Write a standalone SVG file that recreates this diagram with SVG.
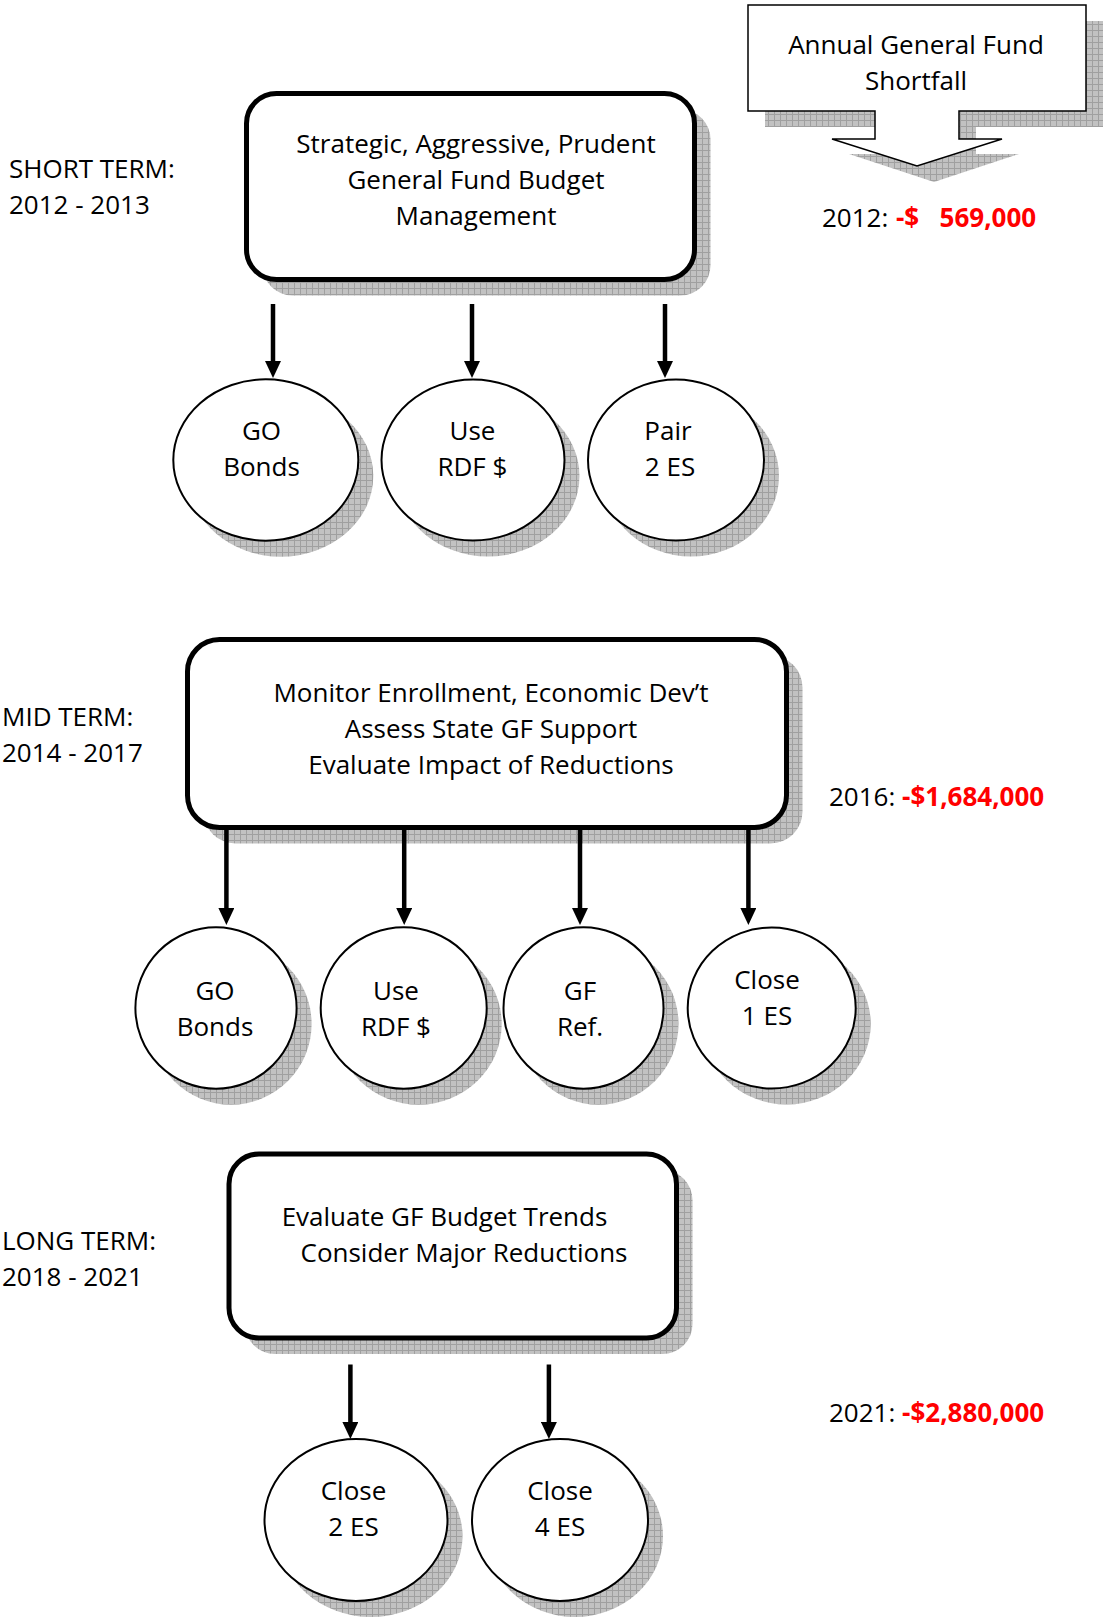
<svg xmlns="http://www.w3.org/2000/svg" width="1103" height="1621" viewBox="0 0 1103 1621">
<style>
text{font-family:"Open Sans","Liberation Sans",sans-serif;font-size:26px;fill:#000}
.c{text-anchor:middle}
.red{fill:#ff0000;font-weight:bold}
.box{fill:#fff;stroke:#000;stroke-width:5}
.node{fill:#fff;stroke:#000;stroke-width:2}
.sh{fill:url(#grid);stroke:none}
.conn{stroke:#000;stroke-width:4.5;fill:none;marker-end:url(#ah)}
</style>
<defs>
<pattern id="grid" width="6" height="6" patternUnits="userSpaceOnUse">
<rect width="6" height="6" fill="#c2c2c2"/>
<path d="M0 0.5H6M0.5 0V6" stroke="#a0a0a0" stroke-width="1"/>
</pattern>
<marker id="ah" viewBox="0 0 17 16" refX="5" refY="8" markerWidth="17" markerHeight="16" markerUnits="userSpaceOnUse" orient="auto">
<path d="M0 0L17 8L0 16z" fill="#000"/>
</marker>
</defs>
<rect width="1103" height="1621" fill="#fff"/>

<g id="shortfall-callout">
<polygon class="sh" points="765,21 1103,21 1103,127 976,127 976,154 1019,154 934,182 849,154 892,154 892,127 765,127"/>
<polygon fill="#fff" stroke="#000" stroke-width="1.5" points="748,5 1086,5 1086,111 959,111 959,139 1002,139 917,166 832,139 875,139 875,111 748,111"/>
<text class="c" x="916" y="53.5">Annual General Fund</text>
<text class="c" x="916" y="89.5">Shortfall</text>
</g>

<g id="amount-2012"><text x="822" y="227">2012: <tspan class="red" x="896">-$</tspan><tspan class="red" x="939.6">569,000</tspan></text></g>
<g id="amount-2016"><text x="829" y="806">2016: <tspan class="red">-$1,684,000</tspan></text></g>
<g id="amount-2021"><text x="829" y="1422">2021: <tspan class="red">-$2,880,000</tspan></text></g>

<g id="label-short"><text x="9" y="177.5">SHORT TERM:</text><text x="9" y="213.5">2012 - 2013</text></g>
<g id="label-mid"><text x="2" y="726">MID TERM:</text><text x="2" y="762">2014 - 2017</text></g>
<g id="label-long"><text x="2" y="1250">LONG TERM:</text><text x="2" y="1286">2018 - 2021</text></g>

<g id="box-short">
<rect class="sh" x="262.5" y="109.5" width="448" height="186" rx="30"/>
<rect class="box" x="246.5" y="93.5" width="448" height="186" rx="30"/>
<text class="c" x="476" y="152.5">Strategic, Aggressive, Prudent</text>
<text class="c" x="476" y="189">General Fund Budget</text>
<text class="c" x="476" y="225">Management</text>
</g>

<g id="box-mid">
<rect class="sh" x="203.5" y="655.5" width="599" height="188" rx="32"/>
<rect class="box" x="187.5" y="639.5" width="599" height="188" rx="32"/>
<text class="c" x="491" y="701.5">Monitor Enrollment, Economic Dev’t</text>
<text class="c" x="491" y="737.5">Assess State GF Support</text>
<text class="c" x="491" y="774">Evaluate Impact of Reductions</text>
</g>

<g id="box-long">
<rect class="sh" x="245" y="1170" width="447.5" height="184" rx="30"/>
<rect class="box" x="229" y="1154" width="447.5" height="184" rx="30"/>
<text class="c" x="444.5" y="1225.5">Evaluate GF Budget Trends</text>
<text class="c" x="464" y="1262">Consider Major Reductions</text>
</g>

<g id="connectors">
<line class="conn" x1="273" y1="304" x2="273" y2="366"/>
<line class="conn" x1="472" y1="304" x2="472" y2="366"/>
<line class="conn" x1="665" y1="304" x2="665" y2="366"/>
<line class="conn" x1="226.4" y1="829" x2="226.4" y2="913"/>
<line class="conn" x1="404.2" y1="829" x2="404.2" y2="913"/>
<line class="conn" x1="580" y1="829" x2="580" y2="913"/>
<line class="conn" x1="748.4" y1="829" x2="748.4" y2="913"/>
<line class="conn" x1="350.4" y1="1364.5" x2="350.4" y2="1427"/>
<line class="conn" x1="548.9" y1="1364.5" x2="548.9" y2="1427"/>
</g>

<g id="n-go-bonds-1">
<ellipse class="sh" cx="280.8" cy="476" rx="92.5" ry="80.7"/>
<ellipse class="node" cx="265.8" cy="460" rx="92.5" ry="80.7"/>
<text class="c" x="261.5" y="440">GO</text><text class="c" x="261.5" y="476">Bonds</text>
</g>
<g id="n-use-rdf-1">
<ellipse class="sh" cx="488" cy="476" rx="91.5" ry="80.5"/>
<ellipse class="node" cx="473" cy="460" rx="91.5" ry="80.5"/>
<text class="c" x="472.4" y="440">Use</text><text class="c" x="472.4" y="476">RDF $</text>
</g>
<g id="n-pair-2es">
<ellipse class="sh" cx="691" cy="476" rx="88" ry="80.5"/>
<ellipse class="node" cx="676" cy="460" rx="88" ry="80.5"/>
<text class="c" x="668" y="440">Pair</text><text class="c" x="670" y="476">2 ES</text>
</g>

<g id="n-go-bonds-2">
<ellipse class="sh" cx="231" cy="1024" rx="80.6" ry="80.7"/>
<ellipse class="node" cx="216" cy="1008" rx="80.6" ry="80.7"/>
<text class="c" x="215" y="1000">GO</text><text class="c" x="215" y="1036">Bonds</text>
</g>
<g id="n-use-rdf-2">
<ellipse class="sh" cx="418.7" cy="1024" rx="83" ry="80.7"/>
<ellipse class="node" cx="403.7" cy="1008" rx="83" ry="80.7"/>
<text class="c" x="396" y="1000">Use</text><text class="c" x="396" y="1036">RDF $</text>
</g>
<g id="n-gf-ref">
<ellipse class="sh" cx="598.5" cy="1024" rx="80" ry="80.7"/>
<ellipse class="node" cx="583.5" cy="1008" rx="80" ry="80.7"/>
<text class="c" x="580" y="1000">GF</text><text class="c" x="580" y="1036">Ref.</text>
</g>
<g id="n-close-1es">
<ellipse class="sh" cx="786.7" cy="1024" rx="84" ry="80.5"/>
<ellipse class="node" cx="771.7" cy="1008" rx="84" ry="80.5"/>
<text class="c" x="767" y="989">Close</text><text class="c" x="767" y="1025">1 ES</text>
</g>

<g id="n-close-2es">
<ellipse class="sh" cx="371" cy="1536" rx="91.5" ry="81"/>
<ellipse class="node" cx="356" cy="1520" rx="91.5" ry="81"/>
<text class="c" x="353.5" y="1499.5">Close</text><text class="c" x="353.5" y="1535.5">2 ES</text>
</g>
<g id="n-close-4es">
<ellipse class="sh" cx="575" cy="1536" rx="88" ry="81"/>
<ellipse class="node" cx="560" cy="1520" rx="88" ry="81"/>
<text class="c" x="560" y="1499.5">Close</text><text class="c" x="560" y="1535.5">4 ES</text>
</g>
</svg>
